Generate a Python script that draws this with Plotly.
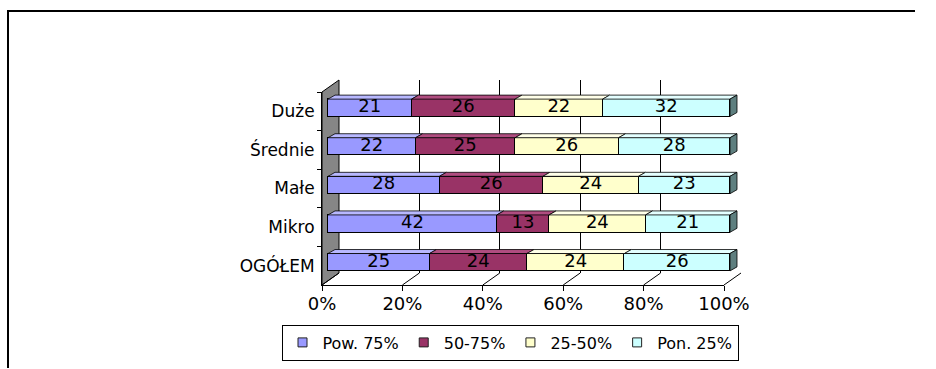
import numpy as np
import plotly.graph_objects as go

# ---- data -------------------------------------------------------------
categories = ["Duże", "Średnie", "Małe", "Mikro", "OGÓŁEM"]   # listed top to bottom
series_names = ["Pow. 75%", "50-75%", "25-50%", "Pon. 25%"]
pow_75 = [21, 22, 28, 42, 25]
s_50_75 = [26, 25, 26, 13, 24]
s_25_50 = [22, 26, 24, 24, 24]
pon_25 = [32, 28, 23, 21, 26]
x_tick_vals = [0, 20, 40, 60, 80, 100]
x_tick_text = ["0%", "20%", "40%", "60%", "80%", "100%"]

# ---- styling ----------------------------------------------------------
front_colors = ["#9999FF", "#993366", "#FFFFCC", "#CCFFFF"]
top_colors = ["#B8B8FF", "#B04D80", "#FFFFE8", "#E4FFFF"]
side_colors = ["#55558F", "#5A1E3C", "#8C8C70", "#5E7F7F"]
FONT = "DejaVu Sans"

W, H = 936, 369


def px(x):
    return x / W


def py(y):
    return 1 - y / H


# 3-D box geometry (pixels)
FX0 = 322.0            # front plane, 0 %
PPU = 4.02             # pixels per percent
FLOOR = 285.0          # front floor edge
CAT_PX = 38.6          # pixels per category band
TOP = FLOOR - 5 * CAT_PX
DEPTH_DX, DEPTH_DY = 17.0, 12.0          # front -> back wall
BX0, BFLOOR, BTOP = FX0 + DEPTH_DX, FLOOR - DEPTH_DY, 80.0
BAR_DX, BAR_DY = 6.0, 3.5                # front -> bar front face
BAR_DEPTH_DX, BAR_DEPTH_DY = 7.0, 4.0    # bar thickness in depth
BAR_W = 0.45

# bar plane axis extents (a bit wider than the data so faces are not clipped)
bx_range = [-3, 106]
by_range = [-0.7, 4.7]
bpx0 = FX0 + BAR_DX
bpfloor = FLOOR - BAR_DY

n = len(categories)
pos = np.arange(n)[::-1]            # Duże on top
series = np.array([pow_75, s_50_75, s_25_50, pon_25], dtype=float)
norm = series / series.sum(axis=0) * 100
cum_end = np.cumsum(norm, axis=0)
cum_start = cum_end - norm

fig = go.Figure()

# back wall axes carry the vertical gridlines
fig.add_trace(go.Scatter(x=[None], y=[None], mode="markers", showlegend=False,
                         hoverinfo="skip", xaxis="x", yaxis="y"))

# stacked bars
for k, name in enumerate(series_names):
    fig.add_trace(go.Bar(
        y=pos, x=series[k], orientation="h", width=BAR_W, name=name,
        marker=dict(color=front_colors[k], line=dict(color="black", width=1)),
        showlegend=False, hoverinfo="skip", xaxis="x2", yaxis="y2"))

# value labels
for k in range(len(series_names)):
    mid = (cum_start[k] + cum_end[k]) / 2
    fig.add_trace(go.Scatter(
        x=mid, y=pos, mode="text", text=[str(int(v)) for v in series[k]],
        textposition="middle center",
        textfont=dict(family=FONT, size=18, color="black"),
        showlegend=False, hoverinfo="skip", xaxis="x2", yaxis="y2"))

# front axes (tick labels, category labels)
fig.add_trace(go.Scatter(x=[50] * n, y=categories[::-1], mode="markers",
                         marker=dict(opacity=0), showlegend=False,
                         hoverinfo="skip", xaxis="x3", yaxis="y3"))

# legend entries
for k, name in enumerate(series_names):
    fig.add_trace(go.Scatter(
        x=[None], y=[None], mode="markers", name=name,
        marker=dict(symbol="square", size=9, color=front_colors[k],
                    line=dict(color="#222222", width=1)),
        xaxis="x", yaxis="y"))

shapes = []
# left side wall
shapes.append(dict(
    type="path", xref="paper", yref="paper", layer="below",
    path=(f"M{px(FX0)},{py(TOP)} L{px(BX0)},{py(BTOP)} "
          f"L{px(BX0)},{py(BFLOOR)} L{px(FX0)},{py(FLOOR)} Z"),
    fillcolor="#868686", line=dict(color="black", width=1)))
# floor lines from each tick back to the wall
for v in x_tick_vals:
    shapes.append(dict(
        type="line", xref="paper", yref="paper", layer="below",
        x0=px(FX0 + v * PPU), y0=py(FLOOR),
        x1=px(BX0 + v * PPU), y1=py(BFLOOR),
        line=dict(color="black", width=1)))

# top and end faces of the bars
ux = BAR_DEPTH_DX / PPU
uy = BAR_DEPTH_DY / CAT_PX
for j in range(n):
    p = pos[j]
    yt = p + BAR_W / 2
    yb = p - BAR_W / 2
    for k in range(len(series_names)):
        s, e = cum_start[k][j], cum_end[k][j]
        shapes.append(dict(
            type="path", xref="x2", yref="y2", layer="above",
            path=f"M{s},{yt} L{e},{yt} L{e + ux},{yt + uy} L{s + ux},{yt + uy} Z",
            fillcolor=top_colors[k], line=dict(color="black", width=0.8)))
    e = cum_end[-1][j]
    shapes.append(dict(
        type="path", xref="x2", yref="y2", layer="above",
        path=f"M{e},{yb} L{e},{yt} L{e + ux},{yt + uy} L{e + ux},{yb + uy} Z",
        fillcolor=side_colors[-1], line=dict(color="black", width=0.8)))

# outer chart frame: left edge and top edge
shapes.append(dict(type="line", xref="paper", yref="paper",
                   x0=px(8), y0=py(10), x1=px(8), y1=py(368),
                   line=dict(color="black", width=2)))
shapes.append(dict(type="line", xref="paper", yref="paper",
                   x0=px(7), y0=py(11), x1=px(915), y1=py(11),
                   line=dict(color="black", width=2)))

fig.update_layout(
    template="none",
    width=W, height=H,
    margin=dict(l=0, r=0, t=0, b=0),
    paper_bgcolor="white", plot_bgcolor="rgba(0,0,0,0)",
    font=dict(family=FONT, color="black"),
    barmode="stack", barnorm="percent", bargap=0,
    showlegend=True,
    legend=dict(orientation="h", x=px(510), xanchor="center",
                y=py(342.5), yanchor="middle", traceorder="normal",
                bordercolor="black", borderwidth=1, bgcolor="white",
                font=dict(family=FONT, size=16), itemwidth=30,
                tracegroupgap=0),
    # back wall
    xaxis=dict(domain=[px(BX0), px(BX0 + 100 * PPU)], range=[0, 100],
               anchor="y", showgrid=True, gridcolor="black", gridwidth=1,
               tickvals=x_tick_vals, showticklabels=False, ticks="",
               showline=False, zeroline=False, fixedrange=True),
    yaxis=dict(domain=[py(BFLOOR), py(BTOP)], range=[0, 1], anchor="x",
               visible=False, fixedrange=True),
    # bar plane
    xaxis2=dict(domain=[px(bpx0 + bx_range[0] * PPU), px(bpx0 + bx_range[1] * PPU)],
                range=bx_range, anchor="y2", visible=False, fixedrange=True),
    yaxis2=dict(domain=[py(bpfloor - (by_range[0] + 0.5) * CAT_PX),
                        py(bpfloor - (by_range[1] + 0.5) * CAT_PX)],
                range=by_range, anchor="x2", visible=False, fixedrange=True),
    # front plane axes
    xaxis3=dict(domain=[px(FX0), px(FX0 + 100 * PPU)], range=[0, 100],
                anchor="y3", showline=True, linecolor="black", linewidth=1,
                ticks="outside", ticklen=5, tickcolor="black",
                tickvals=x_tick_vals, ticktext=x_tick_text,
                tickfont=dict(family=FONT, size=18), ticklabelstandoff=-3,
                showgrid=False, zeroline=False, fixedrange=True),
    yaxis3=dict(domain=[py(FLOOR), py(TOP)], type="category",
                categoryorder="array", categoryarray=categories[::-1],
                range=[-0.5, n - 0.5], anchor="x3", showline=True,
                linecolor="black", linewidth=1, ticks="outside",
                tickson="boundaries", ticklen=4, tickcolor="black",
                tickfont=dict(family=FONT, size=17), ticklabelstandoff=3,
                showgrid=False, zeroline=False, fixedrange=True),
    shapes=shapes,
)

fig.write_html("out.html", config={"displayModeBar": False})
